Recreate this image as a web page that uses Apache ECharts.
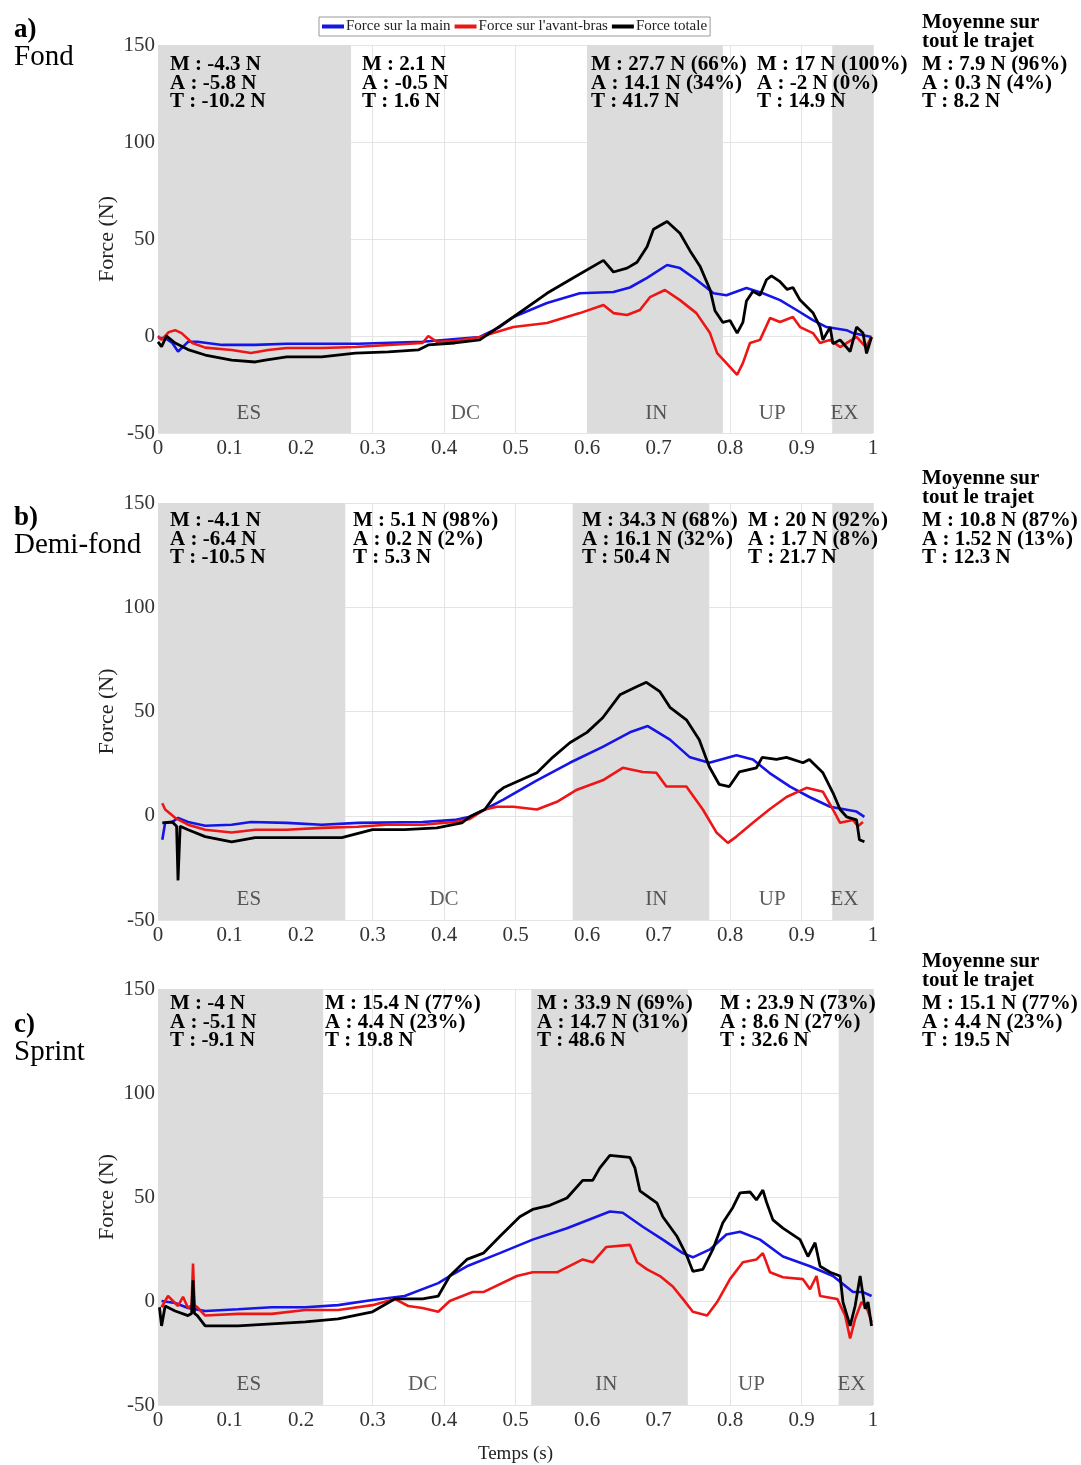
<!DOCTYPE html>
<html>
<head>
<meta charset="utf-8">
<script src="https://cdn.jsdelivr.net/npm/echarts@6/dist/echarts.min.js"></script>
<style>
  html, body { margin: 0; padding: 0; background: #fff; }
  #chart { width: 1081px; height: 1465px; }
</style>
</head>
<body>
<div id="chart"></div>
<script>
// ---- a) Fond ----
var fondMainT = [0, 0.01, 0.02, 0.028, 0.042, 0.055, 0.09, 0.136, 0.18, 0.28, 0.37, 0.45, 0.478, 0.497, 0.544, 0.59, 0.637, 0.66, 0.684, 0.712, 0.73, 0.753, 0.777, 0.795, 0.823, 0.846, 0.87, 0.893, 0.916, 0.935, 0.963, 0.972, 0.998];
var fondMainF = [-1, -1, -3.6, -8, -3, -3, -4.6, -4.6, -4, -4, -3, -0.5, 4.6, 9.8, 17, 22, 22.7, 25, 30, 36.6, 35, 29, 22, 21, 24.7, 22, 18.5, 13.4, 8.2, 4.6, 3, 1.5, -0.5];
var fondAvantT = [0, 0.005, 0.015, 0.024, 0.033, 0.048, 0.066, 0.103, 0.13, 0.154, 0.18, 0.229, 0.276, 0.322, 0.37, 0.378, 0.39, 0.415, 0.45, 0.497, 0.544, 0.59, 0.623, 0.637, 0.656, 0.674, 0.688, 0.709, 0.73, 0.753, 0.772, 0.782, 0.795, 0.81, 0.818, 0.828, 0.842, 0.856, 0.87, 0.888, 0.898, 0.916, 0.926, 0.94, 0.954, 0.977, 0.99, 0.998];
var fondAvantF = [0, -2, 2, 3, 1.5, -3.6, -6, -7.2, -8.8, -7.2, -6.2, -6.2, -5.7, -4.6, -3.6, 0, -3, -2.6, -0.5, 4.6, 6.7, 11.8, 16, 11.8, 10.8, 13.4, 20, 23.7, 18.5, 11.8, 1.5, -8.8, -14, -20, -14, -3.6, -2, 9.3, 7.2, 9.8, 4.6, 1.5, -3.6, -2, -5.7, -0.5, -5.7, -0.5];
var fondTotalT = [0, 0.005, 0.012, 0.024, 0.042, 0.066, 0.103, 0.136, 0.15, 0.18, 0.229, 0.276, 0.322, 0.364, 0.378, 0.415, 0.45, 0.497, 0.544, 0.59, 0.623, 0.637, 0.656, 0.67, 0.684, 0.693, 0.712, 0.73, 0.744, 0.758, 0.772, 0.779, 0.79, 0.8, 0.81, 0.818, 0.823, 0.832, 0.842, 0.851, 0.858, 0.87, 0.88, 0.888, 0.898, 0.916, 0.926, 0.93, 0.94, 0.944, 0.954, 0.968, 0.977, 0.986, 0.991, 0.998];
var fondTotalF = [-3, -5.5, 0, -3.6, -7, -9.8, -12.4, -13.4, -12.4, -10.8, -10.8, -8.8, -8.2, -7.2, -4.6, -3.6, -2, 9.8, 22, 32, 39, 33, 35, 38, 46, 55, 59, 53, 44, 36, 24, 13, 7, 8, 1.5, 7, 18, 23, 21, 29, 31, 28, 24, 25, 18.5, 12, 4.6, -2, 4.6, -4, -2, -8, 4.6, 1.5, -9, -0.5];
var fondShade = [[0, 0.27], [0.6, 0.79], [0.943, 1]];
var fondPhaseX = [0.127, 0.43, 0.697, 0.859, 0.96];

// ---- b) Demi-fond ----
var demiMainT = [0.006, 0.01, 0.02, 0.028, 0.042, 0.066, 0.103, 0.13, 0.18, 0.229, 0.28, 0.37, 0.415, 0.436, 0.457, 0.483, 0.53, 0.576, 0.622, 0.66, 0.685, 0.716, 0.744, 0.771, 0.809, 0.832, 0.855, 0.884, 0.911, 0.94, 0.977, 0.988];
var demiMainF = [-11.5, -3.4, -3, -1, -3, -4.8, -4.3, -3, -3.4, -4.3, -3.4, -3, -2, -0.5, 3, 7.7, 17, 25.4, 33, 40, 43, 36.5, 28, 25.4, 29, 27, 20.6, 14, 9, 4.3, 2, -0.5];
var demiAvantT = [0.006, 0.01, 0.024, 0.042, 0.066, 0.103, 0.136, 0.18, 0.229, 0.279, 0.32, 0.37, 0.415, 0.436, 0.457, 0.474, 0.497, 0.53, 0.558, 0.586, 0.622, 0.65, 0.678, 0.697, 0.711, 0.739, 0.762, 0.781, 0.797, 0.809, 0.832, 0.855, 0.879, 0.907, 0.93, 0.944, 0.954, 0.972, 0.979, 0.986];
var demiAvantF = [6, 3, -1, -4.3, -6.7, -8, -6.7, -6.7, -5.8, -5.3, -4.3, -4.3, -3, -1.5, 3, 4.3, 4.3, 3, 6.7, 12.5, 17, 23, 21, 20.6, 14, 14, 3, -8, -13, -10, -3.4, 3, 9, 13.4, 11.5, 3, -3.4, -2, -5, -3];
var demiTotalT = [0.006, 0.02, 0.026, 0.028, 0.031, 0.042, 0.066, 0.103, 0.136, 0.18, 0.229, 0.257, 0.3, 0.345, 0.39, 0.425, 0.436, 0.457, 0.474, 0.483, 0.53, 0.552, 0.576, 0.6, 0.622, 0.646, 0.67, 0.683, 0.702, 0.716, 0.739, 0.757, 0.771, 0.785, 0.799, 0.813, 0.837, 0.845, 0.865, 0.879, 0.902, 0.911, 0.93, 0.944, 0.954, 0.963, 0.977, 0.981, 0.988];
var demiTotalF = [-3.4, -3, -5, -31, -5, -6.7, -10, -12.5, -10.5, -10.5, -10.5, -10.5, -6.7, -6.7, -5.8, -3.4, -0.5, 3, 11, 13.4, 20.6, 28, 35, 40, 47, 58, 62, 64, 59.5, 52, 46, 36.5, 23.5, 15, 14, 21, 23, 28, 27, 28, 25.4, 27, 20.6, 11, 3, -0.5, -2, -11.5, -12.5];
var demiShade = [[0, 0.262], [0.58, 0.771], [0.943, 1]];
var demiPhaseX = [0.127, 0.4, 0.697, 0.859, 0.96];

// ---- c) Sprint ----
var sprintMainT = [0.005, 0.024, 0.042, 0.066, 0.112, 0.159, 0.206, 0.252, 0.3, 0.345, 0.392, 0.408, 0.432, 0.478, 0.524, 0.572, 0.632, 0.65, 0.678, 0.706, 0.734, 0.748, 0.772, 0.795, 0.814, 0.842, 0.874, 0.912, 0.944, 0.972, 0.986, 0.998];
var sprintMainF = [0, -1, -3.4, -4.8, -4, -3, -3, -2, 0.5, 2.4, 8.6, 12, 16.7, 23, 29.5, 35, 43, 42.4, 35.7, 29.5, 23, 21, 24.8, 32, 33.3, 29.5, 21.4, 16.7, 12, 4.3, 4.3, 2.4];
var sprintAvantT = [0.005, 0.014, 0.028, 0.035, 0.042, 0.047, 0.049, 0.051, 0.055, 0.066, 0.112, 0.159, 0.206, 0.252, 0.3, 0.331, 0.35, 0.37, 0.392, 0.408, 0.44, 0.455, 0.502, 0.524, 0.558, 0.594, 0.608, 0.627, 0.66, 0.67, 0.684, 0.702, 0.72, 0.734, 0.748, 0.768, 0.782, 0.8, 0.818, 0.837, 0.846, 0.856, 0.874, 0.902, 0.912, 0.921, 0.926, 0.95, 0.961, 0.968, 0.975, 0.984, 0.991, 0.998];
var sprintAvantF = [-3, 2.4, -2.4, 2, -3.4, -2, 18, -2, -3, -7, -6.2, -6.2, -4.3, -4.3, -2, 1, -2.4, -3.4, -5.2, 0, 4.3, 4.3, 12, 13.8, 13.8, 20, 18.6, 26, 27, 18.6, 15.2, 12, 7, 1, -5.2, -7, -0.5, 10.5, 18.6, 20, 23, 13.8, 11.4, 10.5, 5.7, 12, 2.4, 1, -7, -18, -8.6, -0.5, -3, -10];
var sprintTotalT = [0.002, 0.005, 0.01, 0.024, 0.042, 0.047, 0.049, 0.051, 0.055, 0.066, 0.112, 0.159, 0.206, 0.252, 0.3, 0.331, 0.35, 0.37, 0.392, 0.408, 0.432, 0.455, 0.478, 0.506, 0.524, 0.548, 0.572, 0.594, 0.608, 0.618, 0.632, 0.66, 0.667, 0.674, 0.698, 0.706, 0.726, 0.74, 0.748, 0.762, 0.776, 0.79, 0.804, 0.814, 0.828, 0.837, 0.846, 0.851, 0.86, 0.874, 0.898, 0.909, 0.919, 0.926, 0.94, 0.954, 0.958, 0.968, 0.975, 0.982, 0.989, 0.993, 0.998];
var sprintTotalF = [-3, -12, -2.4, -4.8, -7, -6, 10, -6, -7, -12, -12, -11, -10, -8.6, -5.2, 1, 1, 1, 2.4, 12, 20, 23, 31, 40.5, 44, 46, 49.5, 58, 58, 64, 70, 69, 64, 53, 47, 40.5, 31, 21.4, 14.3, 15.2, 24.8, 37.6, 45, 52, 52.4, 48.6, 53.3, 47.6, 39, 35, 29.5, 21.4, 28, 16.7, 13.8, 12, -0.5, -12, -2.4, 12, -3.8, -0.5, -12];
var sprintShade = [[0, 0.231], [0.522, 0.741], [0.952, 1]];
var sprintPhaseX = [0.127, 0.37, 0.627, 0.83, 0.97];

var phaseNames = ['ES', 'DC', 'IN', 'UP', 'EX'];
var yTicks = [-50, 0, 50, 100, 150];

// texts of the boxes (M = main, A = avant-bras, T = total)
var fondNotes = [
    ['M : -4.3 N', 'A : -5.8 N', 'T : -10.2 N'],
    ['M : 2.1 N', 'A : -0.5 N', 'T : 1.6 N'],
    ['M : 27.7 N (66%)', 'A : 14.1 N (34%)', 'T : 41.7 N'],
    ['M : 17 N (100%)', 'A : -2 N (0%)', 'T : 14.9 N'],
    ['M : 7.9 N (96%)', 'A : 0.3 N (4%)', 'T : 8.2 N']
];
var demiNotes = [
    ['M : -4.1 N', 'A : -6.4 N', 'T : -10.5 N'],
    ['M : 5.1 N (98%)', 'A : 0.2 N (2%)', 'T : 5.3 N'],
    ['M : 34.3 N (68%)', 'A : 16.1 N (32%)', 'T : 50.4 N'],
    ['M : 20 N (92%)', 'A : 1.7 N (8%)', 'T : 21.7 N'],
    ['M : 10.8 N (87%)', 'A : 1.52 N (13%)', 'T : 12.3 N']
];
var sprintNotes = [
    ['M : -4 N', 'A : -5.1 N', 'T : -9.1 N'],
    ['M : 15.4 N (77%)', 'A : 4.4 N (23%)', 'T : 19.8 N'],
    ['M : 33.9 N (69%)', 'A : 14.7 N (31%)', 'T : 48.6 N'],
    ['M : 23.9 N (73%)', 'A : 8.6 N (27%)', 'T : 32.6 N'],
    ['M : 15.1 N (77%)', 'A : 4.4 N (23%)', 'T : 19.5 N']
];

var SERIF = '"Liberation Serif", "DejaVu Serif", serif';
var chartDom = document.getElementById('chart');
var myChart = echarts.init(chartDom);

function zip(t, f) {
    return t.map(function (x, i) { return [x, f[i]]; });
}

var panels = [
    { main: zip(fondMainT, fondMainF), avant: zip(fondAvantT, fondAvantF), total: zip(fondTotalT, fondTotalF),
      shade: fondShade, phaseX: fondPhaseX, notes: fondNotes, noteX: [170, 362, 591, 757, 922], noteY: 65,
      letter: 'a)', name: 'Fond', letterY: 30, nameY: 57, top: 45, height: 388 },
    { main: zip(demiMainT, demiMainF), avant: zip(demiAvantT, demiAvantF), total: zip(demiTotalT, demiTotalF),
      shade: demiShade, phaseX: demiPhaseX, notes: demiNotes, noteX: [170, 353, 582, 748, 922], noteY: 521,
      letter: 'b)', name: 'Demi-fond', letterY: 518, nameY: 545, top: 503, height: 417 },
    { main: zip(sprintMainT, sprintMainF), avant: zip(sprintAvantT, sprintAvantF), total: zip(sprintTotalT, sprintTotalF),
      shade: sprintShade, phaseX: sprintPhaseX, notes: sprintNotes, noteX: [170, 325, 537, 720, 922], noteY: 1004,
      letter: 'c)', name: 'Sprint', letterY: 1025, nameY: 1052, top: 989, height: 419 }
];

var grids = [], xAxes = [], yAxes = [], series = [], graphics = [];

panels.forEach(function (p, i) {
    grids.push({ left: 158, width: 715, top: p.top, height: p.height });
    xAxes.push({
        type: 'value', gridIndex: i, min: 0, max: 1, interval: 0.1,
        name: i === 2 ? 'Temps (s)' : '',
        nameLocation: 'middle', nameGap: 40, nameMoveOverlap: false,
        nameTextStyle: { fontFamily: SERIF, fontSize: 19, color: '#222' },
        axisLine: { show: false }, axisTick: { show: false },
        axisLabel: {
            fontFamily: SERIF, fontSize: 21, color: '#333', margin: 5,
            formatter: function (v) { return String(parseFloat(v.toFixed(1))); }
        },
        splitLine: { show: true, lineStyle: { color: '#e4e4e4', width: 1 } }
    });
    yAxes.push({
        type: 'value', gridIndex: i, min: yTicks[0], max: yTicks[yTicks.length - 1], interval: 50,
        name: 'Force (N)', nameLocation: 'middle', nameGap: 40, nameRotate: 90, nameMoveOverlap: false,
        nameTextStyle: { fontFamily: SERIF, fontSize: 22, color: '#222' },
        axisLine: { show: false }, axisTick: { show: false },
        axisLabel: { fontFamily: SERIF, fontSize: 21, color: '#333', margin: 3 },
        splitLine: { show: true, lineStyle: { color: '#e4e4e4', width: 1 } }
    });

    // shaded phases
    series.push({
        type: 'line', xAxisIndex: i, yAxisIndex: i, data: [], silent: true, z: 1,
        markArea: {
            silent: true,
            itemStyle: { color: '#dcdcdc' },
            data: p.shade.map(function (s) { return [{ xAxis: s[0] }, { xAxis: s[1] }]; })
        }
    });
    // phase names
    series.push({
        type: 'scatter', xAxisIndex: i, yAxisIndex: i, silent: true, symbolSize: 0, z: 3,
        data: p.phaseX.map(function (x, k) { return { value: [x, -40], name: phaseNames[k] }; }),
        label: { show: true, position: 'inside', formatter: '{b}', fontFamily: SERIF, fontSize: 21, color: '#333' }
    });

    var lineCommon = { type: 'line', xAxisIndex: i, yAxisIndex: i, showSymbol: false, symbol: 'none', silent: true, z: 2 };
    series.push(Object.assign({}, lineCommon, { name: 'Force sur la main', data: p.main, itemStyle: { color: '#1515e8' }, lineStyle: { color: '#1515e8', width: 2.6 } }));
    series.push(Object.assign({}, lineCommon, { name: "Force sur l'avant-bras", data: p.avant, itemStyle: { color: '#ee1515' }, lineStyle: { color: '#ee1515', width: 2.6 } }));
    series.push(Object.assign({}, lineCommon, { name: 'Force totale', data: p.total, itemStyle: { color: '#000' }, lineStyle: { color: '#000', width: 2.8 } }));

    // panel letter and name
    graphics.push({ type: 'text', z: 100, x: 14, y: p.letterY, style: { text: p.letter, font: 'bold 27px ' + SERIF, fill: '#000', verticalAlign: 'middle' } });
    graphics.push({ type: 'text', z: 100, x: 14, y: p.nameY, style: { text: p.name, font: '29px ' + SERIF, fill: '#000', verticalAlign: 'middle' } });

    // value boxes
    p.notes.forEach(function (lines, k) {
        lines.forEach(function (txt, j) {
            graphics.push({
                type: 'text', z: 100, x: p.noteX[k], y: p.noteY + j * 18.3,
                style: { text: txt, font: 'bold 21px ' + SERIF, fill: '#000', verticalAlign: 'middle' }
            });
        });
    });
    graphics.push({ type: 'text', z: 100, x: 922, y: p.noteY - 42, style: { text: 'Moyenne sur', font: 'bold 21px ' + SERIF, fill: '#000', verticalAlign: 'middle' } });
    graphics.push({ type: 'text', z: 100, x: 922, y: p.noteY - 23, style: { text: 'tout le trajet', font: 'bold 21px ' + SERIF, fill: '#000', verticalAlign: 'middle' } });
});

var option = {
    animation: false,
    backgroundColor: '#fff',
    legend: {
        data: ['Force sur la main', "Force sur l'avant-bras", 'Force totale'],
        left: 319, top: 17,
        padding: [2, 3, 2, 3],
        itemGap: 4, itemWidth: 22, itemHeight: 4, icon: 'rect',
        borderColor: '#999', borderWidth: 1,
        textStyle: { fontFamily: SERIF, fontSize: 15, color: '#222', padding: [0, 0, 0, -3] }
    },
    grid: grids,
    xAxis: xAxes,
    yAxis: yAxes,
    series: series,
    graphic: graphics
};

option && myChart.setOption(option);
</script>
</body>
</html>
